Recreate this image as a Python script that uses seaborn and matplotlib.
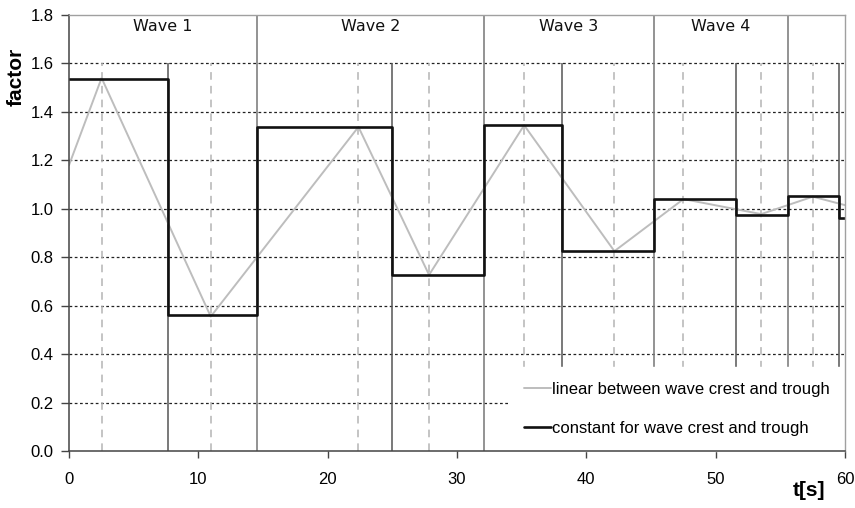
import matplotlib
matplotlib.use("Agg")
import matplotlib.pyplot as plt
import numpy as np
import pandas as pd
import seaborn as sns

# Wave boundaries (full-height lines), half-wave boundaries and crest/trough instants [s]
wave_bounds = [0.0, 14.5, 32.1, 45.2, 55.6, 60.0]
half_bounds = [7.66, 24.96, 38.1, 51.56, 59.57]
crest_trough_t = [2.52, 10.96, 22.38, 27.84, 35.19, 42.17, 47.51, 53.52, 57.51]
wave_labels = ["Wave 1", "Wave 2", "Wave 3", "Wave 4"]

# Factor varying linearly between crest and trough
lin_t = [0.0, 2.52, 10.96, 22.38, 27.84, 35.19, 42.17, 47.51, 53.52, 57.51, 60.0]
lin_f = [1.18, 1.54, 0.555, 1.338, 0.727, 1.345, 0.825, 1.04, 0.978, 1.05, 1.015]

# Factor held constant over each crest / trough half-wave
step_edges = [0.0, 7.66, 14.5, 24.96, 32.1, 38.1, 45.2, 51.56, 55.63, 59.57, 60.0]
step_levels = [1.535, 0.562, 1.338, 0.727, 1.347, 0.826, 1.041, 0.975, 1.051, 0.96]

x_ticks = [0, 10, 20, 30, 40, 50, 60]
y_ticks = [0.0, 0.2, 0.4, 0.6, 0.8, 1.0, 1.2, 1.4, 1.6, 1.8]

sns.set_style("white")
plt.rcParams["font.family"] = ["Liberation Sans", "DejaVu Sans"]
plt.rcParams["text.color"] = "black"
plt.rcParams["xtick.color"] = "black"
plt.rcParams["ytick.color"] = "black"

fig = plt.figure(figsize=(8.55, 5.08), dpi=100)
ax = fig.add_axes([69 / 855, 1 - 451 / 508, 776 / 855, 436 / 508])

# horizontal dotted grid
for y in y_ticks[1:-1]:
    ax.axhline(y, color="#222222", lw=0.9, ls=(0, (2.2, 2.0)), zorder=1)

# crest / trough instants
ax.vlines(crest_trough_t, 0, 1.6, colors="#b4b4b4", lw=1.1,
          linestyles=(0, (5, 4)), zorder=1)
# half-wave boundaries
ax.vlines(half_bounds, 0, 1.6, colors="#555555", lw=1.1, zorder=1.5)
# wave boundaries
ax.vlines(wave_bounds[1:-1], 0, 1.8, colors="#808080", lw=1.2, zorder=1.5)

lin_df = pd.DataFrame({"t": lin_t, "factor": lin_f})
sns.lineplot(data=lin_df, x="t", y="factor", ax=ax, color="#bdbdbd", lw=1.4,
             estimator=None, label="linear between wave crest and trough", zorder=3)

step_df = pd.DataFrame({"t": step_edges, "factor": step_levels + [step_levels[-1]]})
sns.lineplot(data=step_df, x="t", y="factor", ax=ax, color="#111111", lw=1.9,
             estimator=None, drawstyle="steps-post",
             label="constant for wave crest and trough", zorder=4)

for i, name in enumerate(wave_labels):
    xc = 0.5 * (wave_bounds[i] + wave_bounds[i + 1])
    ax.text(xc, 1.752, name, ha="center", va="center", fontsize=11.5,
            family="DejaVu Sans", color="#111111")

ax.set_xlim(0, 60)
ax.set_ylim(0, 1.8)
ax.set_xticks(x_ticks)
ax.set_yticks(y_ticks)
ax.set_xticklabels([str(v) for v in x_ticks])
ax.set_yticklabels([f"{v:.1f}" for v in y_ticks])
ax.tick_params(axis="x", direction="out", length=5, width=1, color="#444444",
               labelcolor="black", labelsize=12, pad=10, bottom=True)
ax.tick_params(axis="y", direction="out", length=6, width=1, color="#444444",
               labelcolor="black", labelsize=12, pad=5, left=True)
ax.set_xlabel("")
ax.set_ylabel("")

for side in ["left", "bottom"]:
    ax.spines[side].set_color("#444444")
    ax.spines[side].set_linewidth(1.1)
for side in ["top", "right"]:
    ax.spines[side].set_color("#a0a0a0")
    ax.spines[side].set_linewidth(1.0)
for sp in ax.spines.values():
    sp.set_zorder(10)

leg = ax.legend(loc="lower right", bbox_to_anchor=(1.0, 0.0), borderaxespad=0.0,
                frameon=True, fancybox=False, facecolor="white", edgecolor="white",
                framealpha=1.0, fontsize=12, handlelength=1.6, handletextpad=0.1,
                labelspacing=1.45, borderpad=0.9)
leg.set_zorder(5)

fig.text(16 / 855, 1 - 77 / 508, "factor", rotation=90, ha="center", va="center",
         fontsize=15, fontweight="bold")
fig.text(809 / 855, 1 - 491 / 508, "t[s]", ha="center", va="center",
         fontsize=15, fontweight="bold")

fig.savefig("out.png", dpi=100, facecolor="white")
